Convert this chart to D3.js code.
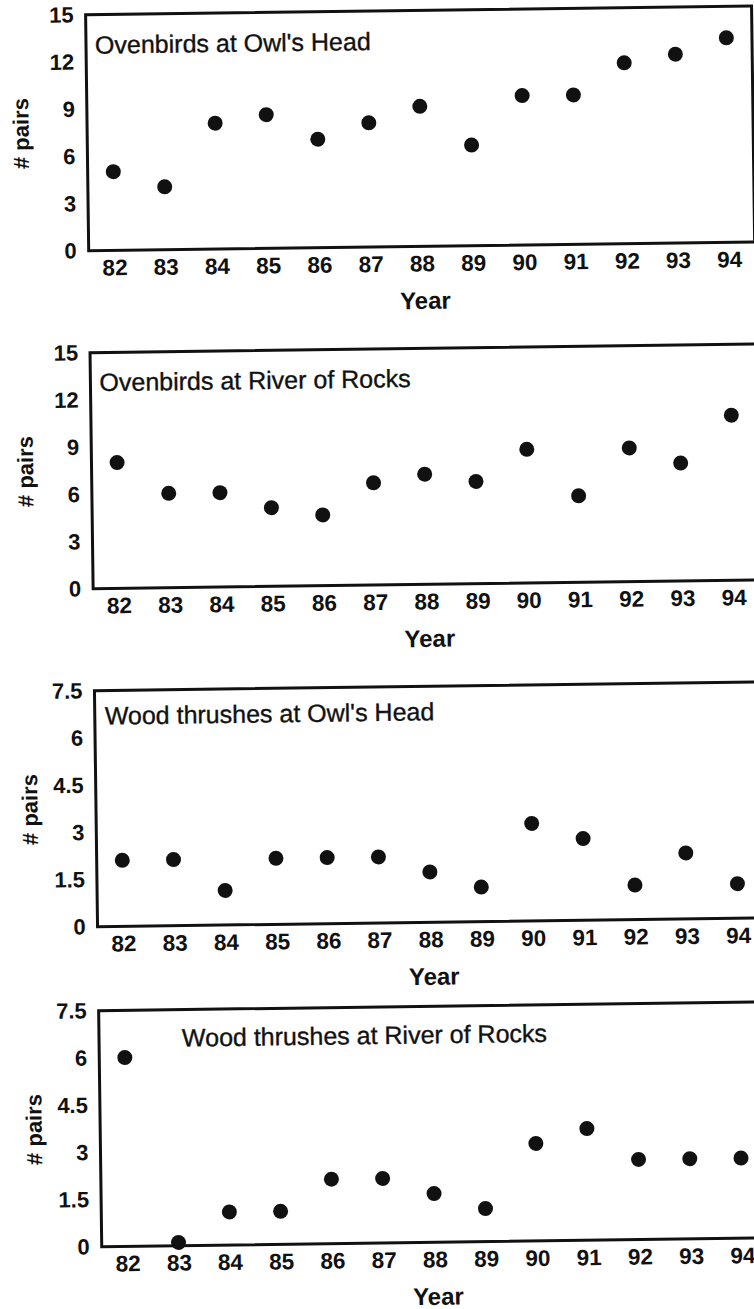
<!DOCTYPE html>
<html><head><meta charset="utf-8">
<script src="https://cdn.jsdelivr.net/npm/d3@7"></script>
<style>html,body{margin:0;padding:0;background:#fff;} svg{display:block}</style>
</head><body><svg id="c" width="754" height="1309"></svg>
<script>
// ---- data ----
const years = [82, 83, 84, 85, 86, 87, 88, 89, 90, 91, 92, 93, 94];
const ovenbirdsOwlsHead   = [5, 4, 8, 8.5, 6.9, 7.9, 8.9, 6.4, 9.5, 9.5, 11.5, 12, 13];
const ovenbirdsRiverRocks = [8, 6, 6, 5, 4.5, 6.5, 7, 6.5, 8.5, 5.5, 8.5, 7.5, 10.5];
const thrushesOwlsHead    = [2.1, 2.1, 1.1, 2.1, 2.1, 2.1, 1.6, 1.1, 3.1, 2.6, 1.1, 2.1, 1.1];
const thrushesRiverRocks  = [6, 0.1, 1.05, 1.05, 2.05, 2.05, 1.55, 1.05, 3.1, 3.55, 2.55, 2.55, 2.55];
const titles = ["Ovenbirds at Owl's Head", "Ovenbirds at River of Rocks",
                "Wood thrushes at Owl's Head", "Wood thrushes at River of Rocks"];
const yTicksOvenbirds = [0, 3, 6, 9, 12, 15];
const yTicksThrushes  = [0, 1.5, 3, 4.5, 6, 7.5];
const xTitle = "Year";
const yTitle = "# pairs";

const series = [ovenbirdsOwlsHead, ovenbirdsRiverRocks, thrushesOwlsHead, thrushesRiverRocks];
const tickSets = [yTicksOvenbirds, yTicksOvenbirds, yTicksThrushes, yTicksThrushes];

// ---- layout ----
const panelTop = [11, 349, 687, 1007];
const panelH = 236;
const left = 94, right = 760;
const titleX = [103, 103, 104, 177];
const titleDy = [30, 29.5, 25, 28];
const font = "'Liberation Sans', Arial, Helvetica, sans-serif";
const ink = "#111";

const svg = d3.select("#c");
svg.append("rect").attr("width", 754).attr("height", 1309).attr("fill", "#fff");
const root = svg.append("g").attr("transform", "rotate(-0.75,377,654)");

const x = d3.scalePoint().domain(years).range([left, right]).padding(0.5);

series.forEach((vals, i) => {
  const top = panelTop[i], bottom = top + panelH;
  const tk = tickSets[i];
  const y = d3.scaleLinear().domain([0, d3.max(tk)]).range([bottom, top]);
  const g = root.append("g");

  const xa = g.append("g").attr("transform", `translate(0,${bottom})`)
    .call(d3.axisBottom(x).tickSize(0).tickPadding(9));
  xa.select(".domain").remove();
  xa.selectAll("text").attr("font-family", font).attr("font-size", 22.5)
    .attr("font-weight", "bold").attr("fill", ink);

  const ya = g.append("g").attr("transform", `translate(${left},0)`)
    .call(d3.axisLeft(y).tickValues(tk).tickSize(0).tickPadding(12).tickFormat(d3.format("")));
  ya.select(".domain").remove();
  ya.selectAll("text").attr("font-family", font).attr("font-size", 22)
    .attr("font-weight", "bold").attr("fill", ink);

  g.append("rect").attr("x", left).attr("y", top)
    .attr("width", right - left).attr("height", panelH)
    .attr("fill", "none").attr("stroke", ink).attr("stroke-width", 3);

  g.append("text").attr("x", titleX[i]).attr("y", top + titleDy[i])
    .attr("dominant-baseline", "central")
    .attr("font-family", font).attr("font-size", 25).attr("fill", ink)
    .attr("stroke", ink).attr("stroke-width", 0.35)
    .text(titles[i]);

  g.append("text").attr("transform", `translate(28,${(top + bottom) / 2}) rotate(-90)`)
    .attr("text-anchor", "middle").attr("dominant-baseline", "central")
    .attr("font-family", font).attr("font-size", 22).attr("font-weight", "bold").attr("fill", ink)
    .text(yTitle);

  g.append("text").attr("x", 430).attr("y", bottom + 54)
    .attr("text-anchor", "middle").attr("dominant-baseline", "central")
    .attr("font-family", font).attr("font-size", 24).attr("font-weight", "bold").attr("fill", ink)
    .text(xTitle);

  g.selectAll("circle.pt").data(years.map((yr, j) => ({yr, v: vals[j]})))
    .join("circle").attr("class", "pt")
    .attr("cx", d => x(d.yr)).attr("cy", d => y(d.v)).attr("r", 7.5)
    .attr("fill", ink);
});
</script></body></html>
